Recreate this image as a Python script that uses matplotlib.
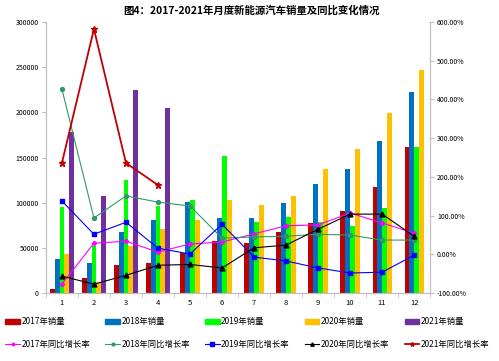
import numpy as np
import matplotlib
matplotlib.use("Agg")
import matplotlib.pyplot as plt
from matplotlib.ticker import FuncFormatter, FixedLocator
from matplotlib.patches import Patch
from matplotlib.lines import Line2D

plt.rcParams["font.family"] = ["Noto Sans CJK SC", "DejaVu Sans"]

months = [str(m) for m in range(1, 13)]
years = ["2017", "2018", "2019", "2020", "2021"]

sales_2017 = [5000, 16500, 31000, 33000, 44000, 57500, 55000, 67500, 77500, 91000, 117000, 161500]
sales_2018 = [38000, 33000, 67500, 81000, 100500, 83000, 83000, 100000, 120500, 137000, 168000, 223000]
sales_2019 = [95000, 52000, 125000, 96000, 103000, 151500, 78500, 84000, 78500, 74000, 94000, 161500]
sales_2020 = [43000, 12000, 52000, 71000, 81000, 103000, 97000, 108000, 137000, 159000, 199000, 246500]
sales_2021 = [178000, 108000, 224500, 205000] + [np.nan] * 8

yoy_2017 = [-77, 29, 34, 6, 27, 32, 53, 74, 76, 107, 81, 55]
yoy_2018 = [427, 94, 151, 135, 125, 42, 45, 47, 52, 50, 37, 37]
yoy_2019 = [138, 52, 83, 16, 1, 78, -7, -17, -35, -48, -46, -2]
yoy_2020 = [-56, -77, -54, -28, -26, -35, 17, 24, 65, 104, 104, 47]
yoy_2021 = [236, 582, 236, 179] + [np.nan] * 8

bar_colors = ["#C00000", "#0070C0", "#00FF00", "#FFC000", "#7030A0"]
line_colors = ["#FF00FF", "#339966", "#0000FF", "#000000", "#C00000"]
line_markers = ["D", "o", "s", "^", "*"]
line_sizes = [2.2, 2.8, 3.5, 3.5, 4.5]
line_widths = [0.8, 0.8, 0.8, 0.8, 1.3]

sales = np.array([sales_2017, sales_2018, sales_2019, sales_2020, sales_2021], dtype=float)
yoy = np.array([yoy_2017, yoy_2018, yoy_2019, yoy_2020, yoy_2021], dtype=float) / 100

axis_grey = "#BFBFBF"
fig = plt.figure(figsize=(4.99, 3.61), dpi=100)
ax = fig.add_axes([0.092, 0.188, 0.77, 0.751])
ax2 = ax.twinx()

x = np.arange(len(months))
bw = 0.15
for j in range(len(months)):
    present = [i for i in range(len(years)) if not np.isnan(sales[i, j])]
    n = len(present)
    for k, i in enumerate(present):
        ax.bar(x[j] + (k - (n - 1) / 2) * bw, sales[i, j], width=bw,
               color=bar_colors[i], linewidth=0)

for i in range(len(years)):
    ax2.plot(x, yoy[i], color=line_colors[i], marker=line_markers[i],
             markersize=line_sizes[i], linewidth=line_widths[i])

ax.set_xlim(-0.5, len(months) - 0.5)
ax.set_ylim(0, 300000)
ax.set_yticks(np.arange(0, 300001, 50000))
ax.yaxis.set_major_formatter(FuncFormatter(lambda v, p: f"{int(v)}"))
ax2.set_ylim(-1, 6)
ax2.set_yticks(np.arange(-1, 6.01, 1))
ax2.yaxis.set_major_formatter(FuncFormatter(lambda v, p: f"{v * 100:.2f}%"))

ax.set_xticks(x, months)
ax.xaxis.set_minor_locator(FixedLocator(np.arange(-0.5, len(months), 1)))
ax.tick_params(axis="x", which="major", length=0, labelsize=5.5, pad=4)
ax.tick_params(axis="x", which="minor", length=3, color=axis_grey)
ax.tick_params(axis="y", length=3, color=axis_grey, labelsize=5, pad=2)
ax2.tick_params(axis="y", length=3, color=axis_grey, labelsize=5, pad=2)

for a in (ax, ax2):
    a.spines["top"].set_visible(False)
    for s in ("left", "right", "bottom"):
        a.spines[s].set_color(axis_grey)
        a.spines[s].set_linewidth(0.8)

fig.text(0.503, 0.97, "图4：2017-2021年月度新能源汽车销量及同比变化情况",
         ha="center", va="center", fontsize=7.5, fontweight="bold")

handles, labels = [], []
for i, yr in enumerate(years):
    handles.append(Patch(color=bar_colors[i]))
    labels.append(f"{yr}年销量")
    handles.append(Line2D([], [], color=line_colors[i], marker=line_markers[i],
                          markersize=line_sizes[i] * 0.7, linewidth=line_widths[i]))
    labels.append(f"{yr}年同比增长率")

fig.legend(handles, labels, ncol=5, loc="upper left", bbox_to_anchor=(0.006, 0.128),
           frameon=False, fontsize=6, handlelength=1.7, handleheight=0.45,
           handletextpad=0.2, columnspacing=1.85, labelspacing=1.6,
           borderaxespad=0, borderpad=0.3)

fig.savefig("out.png", dpi=100)
